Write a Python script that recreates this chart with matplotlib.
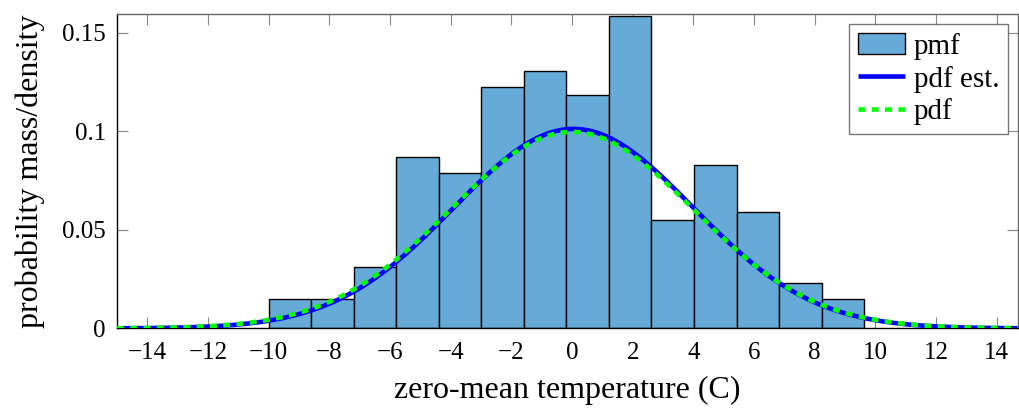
import numpy as np
import matplotlib
matplotlib.use("Agg")
import matplotlib.pyplot as plt

# histogram (pmf) data
bin_edges = np.linspace(-10.0, 9.63, 15)
pmf_values = [0.0149, 0.0149, 0.0310, 0.0868, 0.0787, 0.1225, 0.1305,
              0.1184, 0.1585, 0.0548, 0.0827, 0.0589, 0.0228, 0.0149]

# gaussian parameters
mu_est, sigma_est = 0.05, 3.94   # estimated pdf
mu_true, sigma_true = 0.0, 4.0   # true pdf

x_ticks = list(range(-14, 15, 2))
y_ticks = [0, 0.05, 0.1, 0.15]
y_tick_labels = ["0", "0.05", "0.1", "0.15"]

plt.rcParams['font.family'] = ['Liberation Serif', 'DejaVu Serif']
plt.rcParams['font.size'] = 18

fig = plt.figure(figsize=(10.2, 4.09), dpi=100)
ax = fig.add_axes([0.1147, 0.197, 0.998 - 0.1147, 0.966 - 0.197])

widths = np.diff(bin_edges)
ax.bar(bin_edges[:-1], pmf_values, width=widths, align='edge',
       color='#66aad7', edgecolor='black', linewidth=1.0, label='pmf', zorder=2)

xs = np.linspace(-15, 14.7, 600)
def gauss(x, m, s):
    return np.exp(-0.5 * ((x - m) / s) ** 2) / (s * np.sqrt(2 * np.pi))

ax.plot(xs, gauss(xs, mu_est, sigma_est), color='#0000ff', lw=3.3,
        label='pdf est.', zorder=3, solid_capstyle='butt')
ax.plot(xs, gauss(xs, mu_true, sigma_true), color='#00ff00', lw=3.3,
        dashes=(1.5, 1.4), label='pdf', zorder=4)

ax.set_xlim(-15, 14.7)
ax.set_ylim(0, 0.1596)
ax.set_xticks(x_ticks)
ax.set_xticklabels([f"\u2212{abs(t)}" if t < 0 else str(t) for t in x_ticks])
ax.set_yticks(y_ticks)
ax.set_yticklabels(y_tick_labels)

ax.tick_params(direction='in', length=8, width=0.8, color='#888888',
               top=True, right=True, labelsize=18)
ax.tick_params(axis='x', pad=10)
ax.tick_params(axis='y', pad=8)
for s in ax.spines.values():
    s.set_linewidth(1.0)
ax.spines['top'].set_color('#666666')
ax.spines['right'].set_color('#666666')

ax.set_xlabel('zero-mean temperature (C)', fontsize=23, labelpad=8)
ax.set_ylabel('probability mass/density', fontsize=23, labelpad=12)

handles, labels = ax.get_legend_handles_labels()
order = [labels.index('pmf'), labels.index('pdf est.'), labels.index('pdf')]
leg = ax.legend([handles[i] for i in order], [labels[i] for i in order],
                loc='upper right', fontsize=21, frameon=True, fancybox=False,
                edgecolor='#555555', borderaxespad=0.35, handlelength=1.6,
                handletextpad=0.3, labelspacing=0.2, borderpad=0.3)
leg.get_frame().set_linewidth(1.0)

fig.savefig('out.png', dpi=100)
